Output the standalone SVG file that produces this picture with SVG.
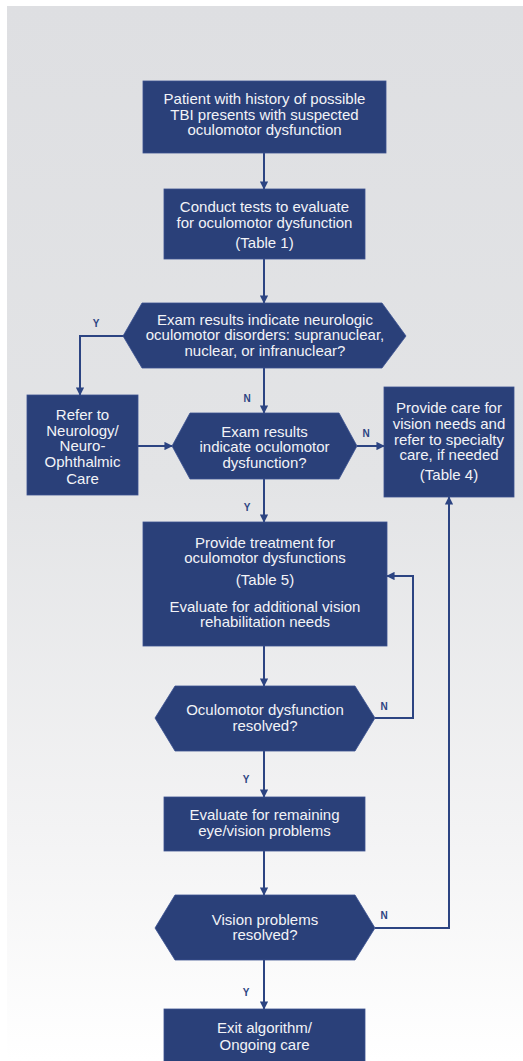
<svg xmlns="http://www.w3.org/2000/svg" width="523" height="1061" viewBox="0 0 523 1061">
<defs>
<linearGradient id="bg" x1="0" y1="0" x2="0" y2="1">
<stop offset="0" stop-color="#dedfe2"/>
<stop offset="0.45" stop-color="#e3e4e6"/>
<stop offset="0.78" stop-color="#f3f3f4"/>
<stop offset="1" stop-color="#ffffff"/>
</linearGradient>
<marker id="ah" viewBox="0 0 10 10" refX="9" refY="5" markerWidth="4.2" markerHeight="4.2" orient="auto" markerUnits="strokeWidth">
<path d="M0,0 L10,5 L0,10 z" fill="#2c4482"/>
</marker>
<style>
.box{fill:#2a4079;stroke:#3a5090;stroke-width:0.8}
.t{font-family:"Liberation Sans",Arial,sans-serif;font-size:15px;fill:#f2f3f7;text-anchor:middle}
.c{fill:none;stroke:#2c4482;stroke-width:2}
.a{marker-end:url(#ah)}
.l{font-family:"Liberation Sans",Arial,sans-serif;font-size:10px;font-weight:bold;fill:#2c4482;text-anchor:middle}
</style>
</defs>
<rect x="0" y="0" width="523" height="1061" fill="#ffffff"/>
<rect x="7" y="6" width="516" height="1055" fill="url(#bg)"/>

<g id="connectors">
<path class="c a" d="M264,153 V189"/>
<path class="c a" d="M264,259 V303"/>
<path class="c a" d="M124,336 H80 V395"/>
<path class="c a" d="M264,368 V413"/>
<path class="c a" d="M138,446 H172"/>
<path class="c a" d="M357,446 H384"/>
<path class="c a" d="M264,479 V522"/>
<path class="c a" d="M264,646 V686"/>
<path class="c a" d="M375,718 H413 V576 H387"/>
<path class="c a" d="M264,751 V797"/>
<path class="c a" d="M264,851 V895"/>
<path class="c a" d="M375,928 H449 V497"/>
<path class="c a" d="M264,960 V1009"/>
<text class="l" x="96" y="327">Y</text>
<text class="l" x="247" y="402">N</text>
<text class="l" x="366" y="437">N</text>
<text class="l" x="247" y="511">Y</text>
<text class="l" x="384" y="710">N</text>
<text class="l" x="246" y="783">Y</text>
<text class="l" x="384" y="919">N</text>
<text class="l" x="246" y="996">Y</text>
</g>

<g id="start">
<rect class="box" x="143" y="81" width="243" height="72"/>
<text class="t" x="264.5" y="104">Patient with history of possible</text>
<text class="t" x="264.5" y="120">TBI presents with suspected</text>
<text class="t" x="264.5" y="135">oculomotor dysfunction</text>
</g>

<g id="conduct">
<rect class="box" x="164" y="189" width="201" height="70"/>
<text class="t" x="264.5" y="212">Conduct tests to evaluate</text>
<text class="t" x="264.5" y="228">for oculomotor dysfunction</text>
<text class="t" x="264.5" y="248">(Table 1)</text>
</g>

<g id="decision-neuro">
<polygon class="box" points="123,336 142,303 382,303 406,336 382,368 142,368"/>
<text class="t" x="265" y="325">Exam results indicate neurologic</text>
<text class="t" x="265" y="340">oculomotor disorders: supranuclear,</text>
<text class="t" x="265" y="356">nuclear, or infranuclear?</text>
</g>

<g id="refer">
<rect class="box" x="27" y="395" width="111" height="100"/>
<text class="t" x="82.5" y="420">Refer to</text>
<text class="t" x="82.5" y="436">Neurology/</text>
<text class="t" x="82.5" y="451">Neuro-</text>
<text class="t" x="82.5" y="467">Ophthalmic</text>
<text class="t" x="82.5" y="484">Care</text>
</g>

<g id="decision-oculo">
<polygon class="box" points="172,446 190,413 339,413 357,446 339,479 190,479"/>
<text class="t" x="264.5" y="437">Exam results</text>
<text class="t" x="264.5" y="452">indicate oculomotor</text>
<text class="t" x="264.5" y="468">dysfunction?</text>
</g>

<g id="vision-care">
<rect class="box" x="384" y="387" width="130" height="110"/>
<text class="t" x="449" y="413">Provide care for</text>
<text class="t" x="449" y="429">vision needs and</text>
<text class="t" x="449" y="445">refer to specialty</text>
<text class="t" x="449" y="460">care, if needed</text>
<text class="t" x="449" y="480">(Table 4)</text>
</g>

<g id="treatment">
<rect class="box" x="143" y="522" width="244" height="124"/>
<text class="t" x="265" y="548">Provide treatment for</text>
<text class="t" x="265" y="563">oculomotor dysfunctions</text>
<text class="t" x="265" y="585">(Table 5)</text>
<text class="t" x="265" y="612">Evaluate for additional vision</text>
<text class="t" x="265" y="627">rehabilitation needs</text>
</g>

<g id="decision-resolved">
<polygon class="box" points="155,718 175,686 355,686 375,718 355,751 175,751"/>
<text class="t" x="265" y="715">Oculomotor dysfunction</text>
<text class="t" x="265" y="731">resolved?</text>
</g>

<g id="remaining">
<rect class="box" x="164" y="797" width="201" height="54"/>
<text class="t" x="264.5" y="820">Evaluate for remaining</text>
<text class="t" x="264.5" y="836">eye/vision problems</text>
</g>

<g id="decision-vision">
<polygon class="box" points="155,928 175,895 355,895 375,928 355,960 175,960"/>
<text class="t" x="265" y="925">Vision problems</text>
<text class="t" x="265" y="940">resolved?</text>
</g>

<g id="exit">
<rect class="box" x="164" y="1009" width="201" height="60"/>
<text class="t" x="264.5" y="1033">Exit algorithm/</text>
<text class="t" x="264.5" y="1050">Ongoing care</text>
</g>
</svg>
